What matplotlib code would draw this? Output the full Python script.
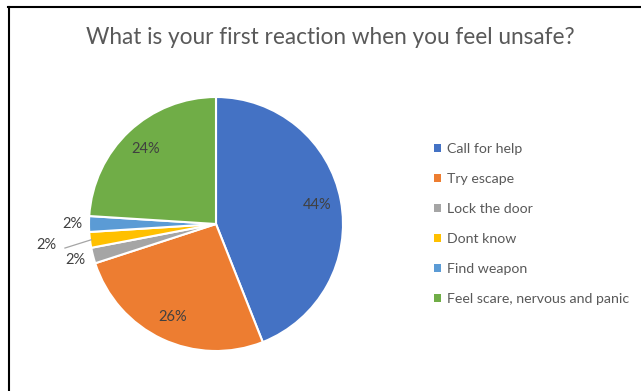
import numpy as np
import matplotlib.pyplot as plt
from matplotlib.lines import Line2D
from matplotlib.patches import Patch

title = "What is your first reaction when you feel unsafe?"
categories = ["Call for help", "Try escape", "Lock the door", "Dont know",
              "Find weapon", "Feel scare, nervous and panic"]
values = [44, 26, 2, 2, 2, 24]
colors = ["#4472C4", "#ED7D31", "#A5A5A5", "#FFC000", "#5B9BD5", "#70AD47"]

# label distance (in radii) per slice, small slices go outside
label_r = [0.81, 0.81, 1.14, 1.35, 1.13, 0.81]

plt.rcParams['font.family'] = ['Lato', 'DejaVu Sans']

W, H = 641, 391
fig = plt.figure(figsize=(W / 100, H / 100), dpi=100)

# pie centre (216, 224) px, radius 127 px
cx, cy, r = 216, 224, 127
ax = fig.add_axes([(cx - r) / W, (H - cy - r) / H, 2 * r / W, 2 * r / H])
wedges, _ = ax.pie(values, colors=colors, startangle=90, counterclock=False,
                   radius=1, wedgeprops=dict(edgecolor='white', linewidth=1.5))
ax.set_xlim(-1, 1)
ax.set_ylim(-1, 1)
ax.set_aspect('equal')
ax.axis('off')

total = sum(values)
start = 90
for i, v in enumerate(values):
    mid = np.deg2rad(start - 360 * (sum(values[:i]) + v / 2) / total)
    d = label_r[i]
    x, y = d * np.cos(mid), d * np.sin(mid)
    ax.text(x, y, f"{v}%", ha='center', va='center', fontsize=10.5,
            color='#404040', clip_on=False)
    if d > 1.3:
        ax.plot([x + 0.15, 0.99 * np.cos(mid)], [y - 0.02, 0.99 * np.sin(mid)],
                color='#A5A5A5', lw=0.9, clip_on=False)

fig.text(330 / W, 1 - 38 / H, title, ha='center', va='center',
         fontsize=16.3, color='#595959')

handles = [Patch(facecolor=c, edgecolor='none') for c in colors]
leg = fig.legend(handles, categories, loc='upper left',
                 bbox_to_anchor=(421 / W, 1 - 130 / H), frameon=False,
                 fontsize=10.2, labelspacing=1.28, handlelength=0.5,
                 handleheight=0.5, handletextpad=0.45, labelcolor='#595959')

# chart border (left and top edges visible)
fig.add_artist(Line2D([8.5 / W, 8.5 / W], [0, 1 - 6.5 / H], color='black',
                      lw=1.5, transform=fig.transFigure))
fig.add_artist(Line2D([8 / W, 1], [1 - 6.5 / H, 1 - 6.5 / H], color='black',
                      lw=1.5, transform=fig.transFigure))

fig.savefig("out.png", dpi=100)
